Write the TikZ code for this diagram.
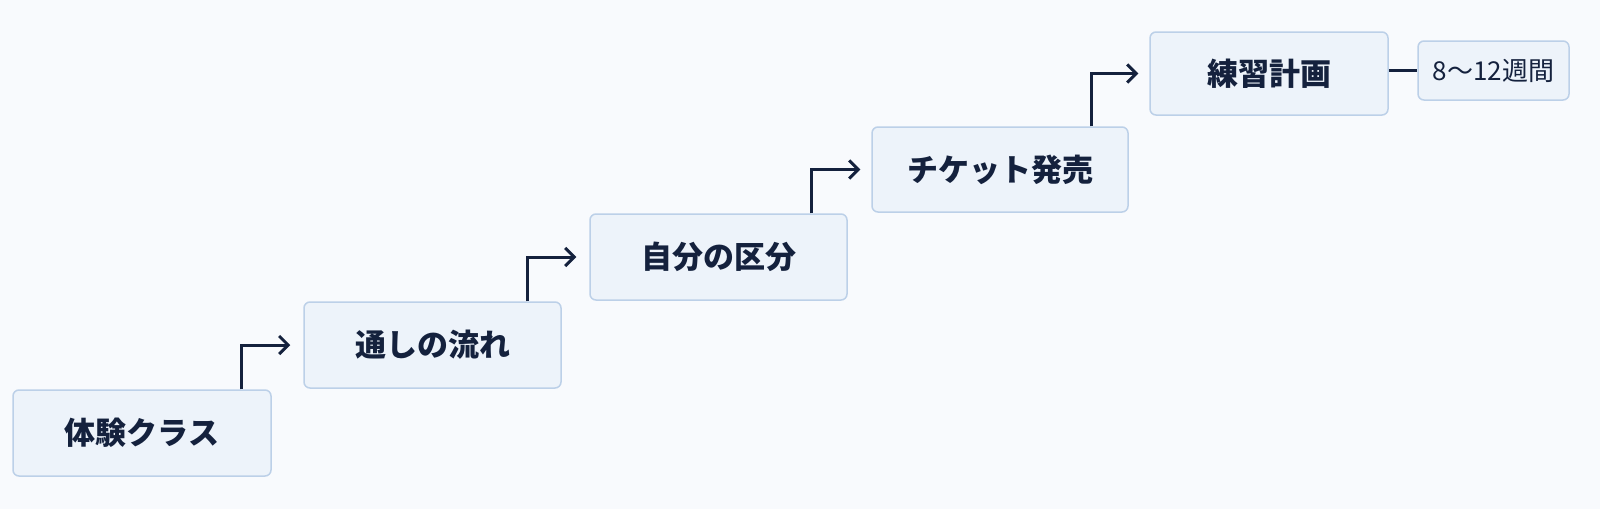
\documentclass[tikz,border=0pt]{standalone}
\usepackage{fontspec}
\newfontfamily\jp{Noto Sans CJK JP}
\usetikzlibrary{arrows.meta}
\definecolor{bg}{HTML}{F8FAFD}
\definecolor{boxfill}{HTML}{EDF3FA}
\definecolor{boxline}{HTML}{BCD0E8}
\definecolor{ink}{HTML}{14213D}
\tikzset{
  stepbox/.style={draw=boxline, fill=boxfill, line width=1.5pt, rounded corners=6pt,
    text=ink, font=\jp\bfseries\fontsize{31}{36}\selectfont, inner sep=0pt},
  notebox/.style={draw=boxline, fill=boxfill, line width=1.5pt, rounded corners=6pt,
    text=ink, font=\jp\fontsize{26}{30}\selectfont, inner sep=0pt},
  arr/.style={draw=ink, line width=3pt, -{Straight Barb[length=9pt,width=18pt,line width=3pt]}},
  link/.style={draw=ink, line width=3pt}
}
\begin{document}
\begin{tikzpicture}[x=1pt,y=-1pt]
\fill[bg] (0,0) rectangle (1600,509);
\useasboundingbox (0,0) rectangle (1600,509);
\node[stepbox, minimum width=258pt, minimum height=86pt] (b1) at (142,433) {体験クラス};
\node[stepbox, minimum width=257pt, minimum height=86pt] (b2) at (432.5,345) {通しの流れ};
\node[stepbox, minimum width=257pt, minimum height=86pt] (b3) at (718.5,257) {自分の区分};
\node[stepbox, minimum width=256pt, minimum height=85pt] (b4) at (1000,169.5) {チケット発売};
\node[stepbox, minimum width=238pt, minimum height=83pt] (b5) at (1269,73.5) {練習計画};
\node[notebox, minimum width=151pt, minimum height=59pt] (b6) at (1493.5,70.5) {8〜12週間};
\draw[arr] ([xshift=-30pt]b1.north east) |- ([xshift=-13pt]b2.west);
\draw[arr] ([xshift=-34pt]b2.north east) |- ([xshift=-13pt]b3.west);
\draw[arr] ([xshift=-36pt]b3.north east) |- ([xshift=-11pt]b4.west);
\draw[arr] ([xshift=-37pt]b4.north east) |- ([xshift=-11pt]b5.west);
\draw[link] (b5.east |- b6.west) -- (b6.west);
\end{tikzpicture}
\end{document}
